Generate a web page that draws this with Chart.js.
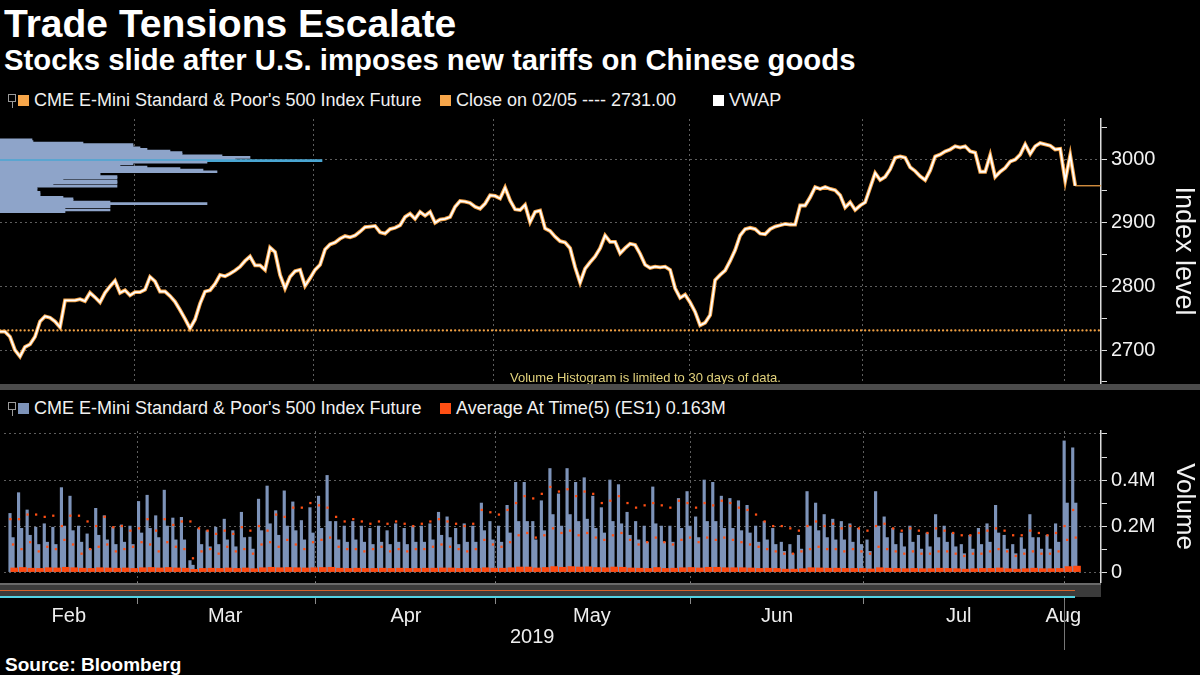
<!DOCTYPE html>
<html>
<head>
<meta charset="utf-8">
<title>Trade Tensions Escalate</title>
<script src="https://cdn.jsdelivr.net/npm/chart.js@4.4.1/dist/chart.umd.min.js"></script>
<style>
  html, body { margin: 0; padding: 0; background: #000; }
  body { width: 1200px; height: 675px; position: relative; overflow: hidden;
         font-family: 'Liberation Sans', Arial, sans-serif; color: #fff; }
  .abs { position: absolute; white-space: nowrap; }
  #title { left: 4px; top: 2px; font-size: 39px; font-weight: bold; line-height: 44px; }
  #subtitle { left: 4px; top: 43px; font-size: 29.3px; font-weight: bold; line-height: 34px; }
  .legend { font-size: 18px; line-height: 20px; color: #f0f0f0; }
  .sw { position: absolute; width: 11px; height: 11px; }
  .tog { position: absolute; width: 6px; height: 6px; border: 1px solid #9a9a9a; }
  .tog::after { content: ''; position: absolute; left: 3px; top: 7px; width: 1px; height: 6px; background: #9a9a9a; }
  #note { left: 510px; top: 370px; font-size: 13px; color: #e2d27c; }
  #source { left: 5px; top: 654px; font-size: 19px; font-weight: bold; }
  #year { left: 510px; top: 625px; font-size: 20px; color: #eee; }
</style>
</head>
<body>
<div id="title" class="abs">Trade Tensions Escalate</div>
<div id="subtitle" class="abs">Stocks slide after U.S. imposes new tariffs on Chinese goods</div>

<div class="abs legend" style="left:0;top:90px;width:900px;height:20px">
  <span class="tog" style="left:8px;top:4px"></span>
  <span class="sw" style="left:18px;top:5px;background:#f7a64a"></span>
  <span class="abs" style="left:34px;top:0">CME E-Mini Standard &amp; Poor's 500 Index Future</span>
  <span class="sw" style="left:440px;top:5px;background:#f7a64a"></span>
  <span class="abs" id="closeLabel" style="left:456px;top:0"></span>
  <span class="sw" style="left:713px;top:5px;background:#fff"></span>
  <span class="abs" style="left:729px;top:0">VWAP</span>
</div>

<div class="abs" style="left:0;top:110px"><canvas id="priceChart" width="1200" height="276"></canvas></div>
<div id="note" class="abs">Volume Histogram is limited to 30 days of data.</div>
<div class="abs" style="left:0;top:384px;width:1200px;height:6px;background:#4b4b4b"></div>

<div class="abs legend" style="left:0;top:398px;width:900px;height:20px">
  <span class="tog" style="left:8px;top:4px"></span>
  <span class="sw" style="left:18px;top:5px;background:#7d93b9"></span>
  <span class="abs" style="left:34px;top:0">CME E-Mini Standard &amp; Poor's 500 Index Future</span>
  <span class="sw" style="left:440px;top:5px;background:#ff4f14"></span>
  <span class="abs" style="left:456px;top:0">Average At Time(5) (ES1) 0.163M</span>
</div>

<div class="abs" style="left:0;top:420px"><canvas id="volumeChart" width="1200" height="230"></canvas></div>
<!-- navigator strip under the volume panel -->
<div class="abs" style="left:0;top:583px;width:1101px;height:12px;background:#3b3b3b;border-top:2px solid #6a6a6a"></div>
<div class="abs" style="left:0;top:590px;width:1075px;height:1px;background:#d4622c"></div>
<div class="abs" style="left:0;top:596px;width:1075px;height:2px;background:#52d2e4"></div>
<div class="abs" style="left:1064px;top:600px;width:1px;height:50px;background:#777"></div>
<div id="year" class="abs">2019</div>
<div id="source" class="abs">Source: Bloomberg</div>

<script>
// x unit = trading session (session k has its volume spike at x = k)
const X_MIN = -0.7;
const X_MAX = 127.3;

const monthNames = ['Feb', 'Mar', 'Apr', 'May', 'Jun', 'Jul', 'Aug'];
const monthStarts = [14.88, 35.7, 56.63, 79.42, 99.53, 123.02];
const monthLabelAt = [6.86, 25.1, 46.2, 67.9, 89.5, 110.7, 122.9];

// ES1 price, sampled every PRICE_STEP sessions from PRICE_START
const PRICE_START = -0.7;
const PRICE_STEP = 0.5814;
const price = [
  2729, 2729, 2721, 2700, 2690, 2705, 2709, 2721, 2745, 2753,
  2751, 2745, 2736, 2778, 2778, 2778, 2780, 2777, 2790, 2783,
  2775, 2790, 2800, 2809, 2790, 2794, 2786, 2791, 2791, 2795,
  2815, 2808, 2792, 2792, 2785, 2776, 2763, 2749, 2734, 2748,
  2773, 2792, 2794, 2804, 2818, 2816, 2820, 2825, 2831, 2840,
  2847, 2833, 2833, 2826, 2861, 2854, 2818, 2797, 2815, 2824,
  2826, 2801, 2813, 2826, 2834, 2858, 2866, 2869, 2875, 2879,
  2877, 2880, 2886, 2893, 2894, 2895, 2885, 2883, 2890, 2892,
  2896, 2909, 2914, 2906, 2917, 2911, 2917, 2900, 2905, 2906,
  2909, 2925, 2934, 2933, 2931, 2925, 2922, 2930, 2943, 2942,
  2938, 2955, 2935, 2921, 2920, 2928, 2901, 2917, 2919, 2891,
  2887, 2878, 2871, 2869, 2860, 2830, 2806, 2828, 2838, 2847,
  2860, 2880, 2870, 2870, 2852, 2860, 2867, 2865, 2851, 2834,
  2829, 2831, 2830, 2831, 2826, 2797, 2782, 2787, 2775, 2760,
  2739, 2743, 2755, 2810, 2818, 2825, 2840, 2857, 2880, 2890,
  2892, 2890, 2883, 2882, 2890, 2894, 2896, 2898, 2897, 2897,
  2927, 2927, 2940, 2956, 2953, 2956, 2953, 2951, 2943, 2924,
  2932, 2920, 2927, 2932, 2955, 2978, 2967, 2972, 2984, 3002,
  3004, 3002, 2987, 2981, 2973, 2967, 2982, 3004, 3007, 3012,
  3015, 3020, 3018, 3020, 3012, 3010, 2980, 2980, 3006, 2972,
  2980, 2986, 2996, 2999, 3007, 3023, 3008, 3020, 3025, 3023,
  3021, 3015, 3016, 2966, 3006, 2958
];
const CLOSE_REF = 2731.00;

// volume-at-price over the last 30 days (thousand contracts), from PROFILE_TOP down
const PROFILE_TOP = 3030;
const PROFILE_STEP = 2.5;
const profileVolume = [
  32, 33, 83, 133, 133, 140, 147, 170, 182, 182,
  222, 250, 235, 322, 207, 133, 120, 147, 180, 203,
  217, 100, 100, 117, 117, 63, 117, 117, 53, 117,
  37, 37, 37, 40, 40, 40, 63, 73, 73, 110,
  207, 110, 110, 65, 110, 65
];

// volume per session (millions of contracts)
const volPeak = [
  0.255, 0.345, 0.27, 0.195, 0.21, 0.195, 0.367, 0.33, 0.2, 0.166,
  0.277, 0.245, 0.195, 0.205, 0.2, 0.307, 0.334, 0.245, 0.356, 0.235,
  0.238, 0.05, 0.188, 0.18, 0.195, 0.23, 0.18, 0.26, 0.152, 0.317,
  0.374, 0.267, 0.353, 0.305, 0.224, 0.28, 0.33, 0.42, 0.22, 0.2,
  0.22, 0.2, 0.19, 0.2, 0.18, 0.21, 0.19, 0.2, 0.2, 0.21,
  0.26, 0.24, 0.19, 0.21, 0.2, 0.3, 0.22, 0.2, 0.29, 0.39,
  0.39, 0.22, 0.31, 0.45, 0.34, 0.45, 0.39, 0.41, 0.33, 0.28,
  0.4, 0.38, 0.26, 0.22, 0.2, 0.37, 0.2, 0.2, 0.32, 0.35,
  0.24, 0.4, 0.39, 0.33, 0.32, 0.31, 0.29, 0.2, 0.22, 0.19,
  0.13, 0.12, 0.16, 0.35, 0.3, 0.25, 0.23, 0.22, 0.21, 0.19,
  0.14, 0.35, 0.24, 0.19, 0.17, 0.2, 0.16, 0.17, 0.25, 0.2,
  0.17, 0.12, 0.16, 0.19, 0.21, 0.29, 0.16, 0.12, 0.15, 0.25,
  0.15, 0.16, 0.21, 0.57, 0.54
];
const volLate = [
  0.15, 0.19, 0.16, 0.12, 0.13, 0.12, 0.2, 0.18, 0.13, 0.1,
  0.16, 0.14, 0.12, 0.13, 0.12, 0.17, 0.19, 0.15, 0.2, 0.14,
  0.14, 0.03, 0.12, 0.11, 0.12, 0.14, 0.11, 0.15, 0.1, 0.18,
  0.21, 0.16, 0.2, 0.18, 0.14, 0.17, 0.19, 0.22, 0.14, 0.13,
  0.14, 0.13, 0.12, 0.13, 0.12, 0.13, 0.12, 0.13, 0.13, 0.14,
  0.16, 0.15, 0.12, 0.13, 0.13, 0.18, 0.14, 0.13, 0.17, 0.22,
  0.22, 0.14, 0.18, 0.25, 0.2, 0.25, 0.22, 0.23, 0.19, 0.17,
  0.22, 0.21, 0.16, 0.14, 0.13, 0.21, 0.13, 0.13, 0.19, 0.2,
  0.15, 0.22, 0.22, 0.19, 0.19, 0.18, 0.17, 0.13, 0.14, 0.12,
  0.09, 0.08, 0.1, 0.2, 0.18, 0.15, 0.14, 0.14, 0.13, 0.12,
  0.09, 0.2, 0.15, 0.12, 0.11, 0.13, 0.1, 0.11, 0.15, 0.13,
  0.11, 0.08, 0.1, 0.12, 0.13, 0.17, 0.1, 0.08, 0.1, 0.15,
  0.1, 0.1, 0.13, 0.3, 0.3
];
// average-at-time(5): open bar, afternoon bar, overnight bars
const avgOpen = [
  0.23, 0.23, 0.25, 0.25, 0.24, 0.245, 0.2, 0.245, 0.245, 0.22,
  0.2, 0.24, 0.195, 0.2, 0.18, 0.19, 0.23, 0.18, 0.23, 0.205,
  0.22, 0.22, 0.19, 0.18, 0.166, 0.18, 0.166, 0.195, 0.18, 0.2,
  0.18, 0.25, 0.24, 0.28, 0.28, 0.3, 0.29, 0.28, 0.24, 0.22,
  0.23, 0.22, 0.21, 0.22, 0.21, 0.22, 0.21, 0.2, 0.21, 0.22,
  0.23, 0.22, 0.21, 0.2, 0.21, 0.27, 0.26, 0.25, 0.27, 0.3,
  0.33, 0.32, 0.34, 0.37, 0.35, 0.36, 0.33, 0.35, 0.34, 0.3,
  0.31, 0.33, 0.3, 0.28, 0.29, 0.3, 0.29, 0.28, 0.31, 0.3,
  0.28, 0.3, 0.29, 0.31, 0.3, 0.28, 0.27, 0.25, 0.22, 0.2,
  0.2, 0.19, 0.18, 0.2, 0.22, 0.2, 0.21, 0.19, 0.2, 0.19,
  0.18, 0.2, 0.21, 0.19, 0.18, 0.19, 0.18, 0.17, 0.19, 0.18,
  0.17, 0.16, 0.16, 0.17, 0.18, 0.19, 0.18, 0.16, 0.16, 0.18,
  0.17, 0.16, 0.17, 0.2, 0.27
];
const avgLate = [
  0.12, 0.1, 0.13, 0.09, 0.11, 0.1, 0.14, 0.12, 0.08, 0.1,
  0.11, 0.12, 0.09, 0.1, 0.11, 0.13, 0.12, 0.09, 0.13, 0.11,
  0.1, 0.06, 0.09, 0.1, 0.08, 0.11, 0.09, 0.1, 0.08, 0.12,
  0.13, 0.11, 0.14, 0.12, 0.1, 0.13, 0.14, 0.15, 0.11, 0.1,
  0.1, 0.09, 0.1, 0.11, 0.09, 0.1, 0.09, 0.1, 0.1, 0.11,
  0.12, 0.11, 0.1, 0.09, 0.1, 0.14, 0.12, 0.11, 0.13, 0.16,
  0.17, 0.15, 0.16, 0.19, 0.17, 0.18, 0.16, 0.17, 0.15, 0.14,
  0.16, 0.17, 0.14, 0.12, 0.13, 0.15, 0.13, 0.12, 0.14, 0.15,
  0.13, 0.15, 0.14, 0.15, 0.14, 0.13, 0.12, 0.11, 0.1, 0.09,
  0.08, 0.08, 0.09, 0.1, 0.11, 0.1, 0.1, 0.09, 0.1, 0.09,
  0.08, 0.11, 0.1, 0.09, 0.08, 0.09, 0.08, 0.08, 0.09, 0.09,
  0.08, 0.07, 0.08, 0.08, 0.09, 0.1, 0.09, 0.07, 0.08, 0.09,
  0.08, 0.08, 0.09, 0.14, 0.15
];
const avgNight = [
  0.018, 0.02, 0.017, 0.016, 0.019, 0.018, 0.021, 0.019, 0.017, 0.016,
  0.019, 0.018, 0.017, 0.018, 0.016, 0.019, 0.02, 0.018, 0.02, 0.018,
  0.017, 0.012, 0.016, 0.017, 0.016, 0.018, 0.016, 0.018, 0.015, 0.019,
  0.021, 0.019, 0.02, 0.019, 0.018, 0.019, 0.02, 0.021, 0.017, 0.016,
  0.017, 0.016, 0.016, 0.017, 0.016, 0.017, 0.016, 0.016, 0.017, 0.017,
  0.018, 0.018, 0.016, 0.017, 0.016, 0.019, 0.017, 0.017, 0.019, 0.022,
  0.022, 0.018, 0.02, 0.024, 0.021, 0.024, 0.022, 0.023, 0.02, 0.019,
  0.022, 0.021, 0.018, 0.017, 0.016, 0.02, 0.016, 0.017, 0.019, 0.02,
  0.018, 0.021, 0.021, 0.019, 0.019, 0.019, 0.018, 0.016, 0.017, 0.016,
  0.013, 0.013, 0.015, 0.019, 0.018, 0.017, 0.017, 0.016, 0.016, 0.016,
  0.014, 0.019, 0.017, 0.016, 0.015, 0.016, 0.015, 0.015, 0.017, 0.016,
  0.015, 0.013, 0.015, 0.016, 0.016, 0.018, 0.015, 0.013, 0.015, 0.017,
  0.015, 0.015, 0.016, 0.024, 0.026
];

document.getElementById('closeLabel').textContent = `Close on 02/05 ---- ${CLOSE_REF.toFixed(2)}`;

Chart.defaults.font.family = "'Liberation Sans', Arial, sans-serif";
Chart.defaults.color = '#eeeeee';

const GRID = '#5e5e5e';
const ORANGE = '#f7a64a';

const pricePoints = price.map((v, i) => ({ x: PRICE_START + i * PRICE_STEP, y: v }));
const last = pricePoints[pricePoints.length - 1];
const pocIndex = profileVolume.indexOf(Math.max(...profileVolume));
const profilePoints = profileVolume.map((v, i) => ({ x: v, y: PROFILE_TOP - i * PROFILE_STEP }));

const monthGridAxis = (tickLength) => ({
    type: 'linear', position: 'bottom', min: X_MIN, max: X_MAX, offset: false,
    afterBuildTicks: (scale) => { scale.ticks = monthStarts.map(value => ({ value })); },
    afterFit: (scale) => { scale.height = tickLength; scale.paddingLeft = 0; scale.paddingRight = 0; },
    ticks: { display: false },
    grid: { color: GRID, drawTicks: tickLength > 0, tickLength: tickLength, tickColor: '#8a8a8a', offset: false },
    border: { display: false, dash: [2, 3] }
});

const rightAxis = (opts) => ({
    type: 'linear', position: 'right', min: opts.min, max: opts.max, offset: false,
    afterBuildTicks: (scale) => { scale.ticks = opts.ticks.map(value => ({ value })); },
    // fixed width; no extra room reserved for the end labels
    afterFit: (scale) => { scale.width = 99; scale.paddingTop = 0; scale.paddingBottom = 0; },
    ticks: { callback: opts.label, color: '#f2f2f2', font: { size: 20 }, padding: 4, autoSkip: false },
    grid: {
        offset: false,
        color: (ctx) => opts.isMajor(ctx.tick.value) ? GRID : 'rgba(0,0,0,0)',
        tickColor: '#dddddd', tickLength: 6
    },
    border: { display: true, color: '#dddddd', width: 1.5, dash: [2, 3] },
    title: { display: true, text: opts.title, color: '#f2f2f2', font: { size: opts.titleSize }, padding: 0 }
});

// Price panel
new Chart(document.getElementById('priceChart'), {
    type: 'line',
    data: {
        datasets: [
            {
                label: 'VWAP', data: pricePoints, xAxisID: 'x', yAxisID: 'y',
                borderColor: '#ffffff', borderWidth: 1.8, pointRadius: 0, tension: 0, order: 0
            },
            {
                label: 'CME E-Mini Standard & Poor\'s 500 Index Future', data: pricePoints, xAxisID: 'x', yAxisID: 'y',
                borderColor: ORANGE, borderWidth: 3.8, pointRadius: 0, tension: 0, order: 1
            },
            {
                label: 'Last', data: [last, { x: X_MAX, y: last.y }], xAxisID: 'x', yAxisID: 'y',
                borderColor: ORANGE, borderWidth: 1.2, pointRadius: 0, order: 2
            },
            {
                label: 'Close on 02/05', data: [{ x: X_MIN, y: CLOSE_REF }, { x: X_MAX, y: CLOSE_REF }],
                xAxisID: 'x', yAxisID: 'y',
                borderColor: '#f2a245', borderWidth: 2.2, borderDash: [0.1, 4], borderCapStyle: 'round',
                pointRadius: 0, order: 3
            },
            {
                type: 'bar', label: 'Volume at price', indexAxis: 'y', data: profilePoints,
                xAxisID: 'xp', yAxisID: 'y', grouped: false, barThickness: 2, borderWidth: 0,
                backgroundColor: (ctx) => ctx.dataIndex === pocIndex ? '#4aa6d2' : '#8ea4c9',
                order: 4
            }
        ]
    },
    options: {
        responsive: false, animation: false,
        layout: { padding: { top: 9, bottom: 3, left: 0, right: 0 } },
        plugins: { legend: { display: false }, tooltip: { enabled: false } },
        scales: {
            x: monthGridAxis(0),
            xp: { type: 'linear', display: false, min: 0, max: 1101 },
            y: rightAxis({
                min: 2648.4, max: 3062.8,
                ticks: [2650, 2700, 2750, 2800, 2850, 2900, 2950, 3000, 3050],
                isMajor: (v) => v % 100 === 0 && v >= 2700 && v <= 3000,
                label: (v) => (v % 100 === 0 && v >= 2700 && v <= 3000) ? String(v) : '',
                title: 'Index level', titleSize: 27
            })
        }
    }
});

// Volume panel
const sessionPoints = (arr, shift) => arr.map((v, k) => ({ x: k + shift, y: v }));

new Chart(document.getElementById('volumeChart'), {
    type: 'bar',
    data: {
        datasets: [
            {
                type: 'line', label: 'Average At Time(5) open', data: sessionPoints(avgOpen, 0.05),
                xAxisID: 'x', yAxisID: 'y', showLine: false, pointStyle: 'rect', pointRadius: 1.6,
                pointBorderWidth: 0, pointBackgroundColor: '#ff4f14', order: 0
            },
            {
                type: 'line', label: 'Average At Time(5) afternoon', data: sessionPoints(avgLate, 0.35),
                xAxisID: 'x', yAxisID: 'y', showLine: false, pointStyle: 'rect', pointRadius: 1.6,
                pointBorderWidth: 0, pointBackgroundColor: '#ff4f14', order: 1
            },
            {
                label: 'Average At Time(5) overnight', data: sessionPoints(avgNight, 0.5),
                xAxisID: 'x', yAxisID: 'y', grouped: false, barThickness: 7, borderWidth: 0,
                backgroundColor: '#ff4a10', order: 2
            },
            {
                label: 'Volume', data: sessionPoints(volPeak, 0),
                xAxisID: 'x', yAxisID: 'y', grouped: false, barThickness: 2.5, borderWidth: 0,
                backgroundColor: '#7d93b9', order: 3
            },
            {
                label: 'Volume afternoon', data: sessionPoints(volLate, 0.3),
                xAxisID: 'x', yAxisID: 'y', grouped: false, barThickness: 3.5, borderWidth: 0,
                backgroundColor: '#7d93b9', order: 4
            }
        ]
    },
    options: {
        responsive: false, animation: false,
        layout: { padding: { top: 11, bottom: 18, left: 0, right: 0 } },
        plugins: { legend: { display: false }, tooltip: { enabled: false } },
        scales: {
            x: monthGridAxis(22),
            xl: {
                type: 'linear', position: 'bottom', min: X_MIN, max: X_MAX, offset: false,
                afterBuildTicks: (scale) => { scale.ticks = monthLabelAt.map(value => ({ value })); },
                afterFit: (scale) => { scale.height = 28; scale.paddingLeft = 0; scale.paddingRight = 0; },
                ticks: {
                    callback: (v, i) => monthNames[i], autoSkip: false, maxRotation: 0,
                    color: '#eeeeee', font: { size: 20 }, padding: 0
                },
                grid: { display: false, drawTicks: false },
                border: { display: false }
            },
            y: rightAxis({
                min: -0.043, max: 0.613,
                ticks: [0, 0.1, 0.2, 0.3, 0.4, 0.5, 0.6],
                isMajor: (v) => Math.round(v * 10) % 2 === 0,
                label: (v) => {
                    const tenths = Math.round(v * 10);
                    if (tenths === 0) return '0';
                    return (tenths % 2 === 0 && tenths < 6) ? `${(tenths / 10).toFixed(1)}M` : '';
                },
                title: 'Volume', titleSize: 26
            })
        }
    }
});
</script>
</body>
</html>
